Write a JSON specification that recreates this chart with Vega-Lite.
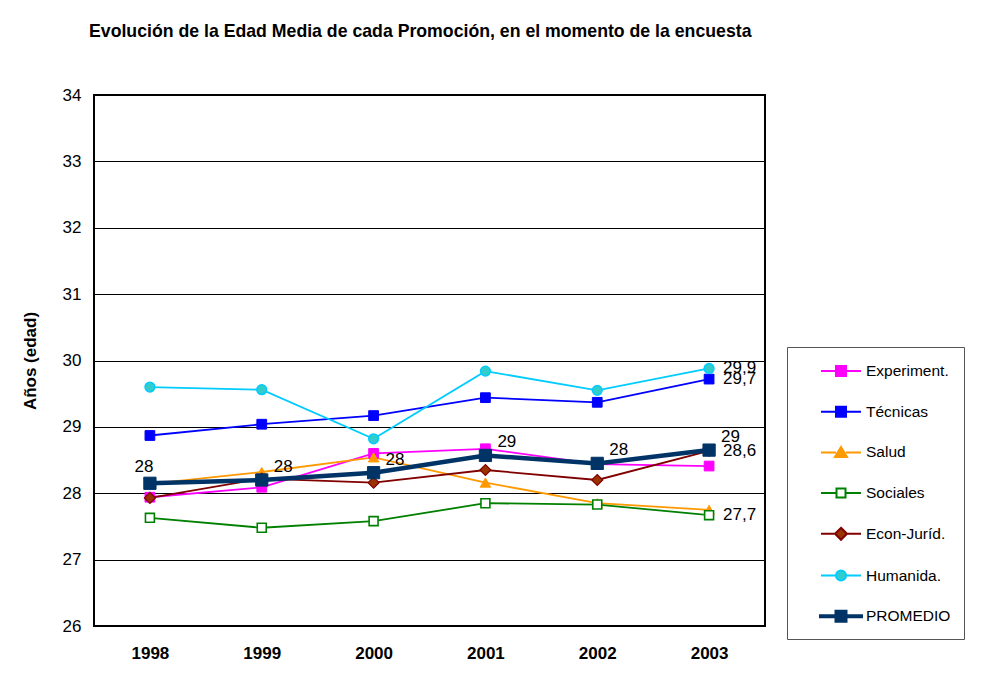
{
  "$schema": "https://vega.github.io/schema/vega-lite/v6.json",
  "width": 671,
  "height": 531,
  "padding": {"left": 21, "top": 23, "right": 5, "bottom": 5},
  "background": "#ffffff",
  "config": {
    "font": "Liberation Sans",
    "view": {"stroke": "#000000", "strokeWidth": 2},
    "axis": {"labelFont": "Liberation Sans", "titleFont": "Liberation Sans", "labelColor": "#000", "titleColor": "#000"}
  },
  "title": {
    "text": "Evolución de la Edad Media de cada Promoción, en el momento de la encuesta",
    "anchor": "start",
    "frame": "group",
    "dx": -5,
    "offset": 45,
    "fontSize": 17.7,
    "fontWeight": "bold",
    "font": "Liberation Sans",
    "color": "#000"
  },
  "data": {
    "values": [
      {"serie": "Experiment.", "year": "1998", "edad": 27.94},
      {"serie": "Experiment.", "year": "1999", "edad": 28.09},
      {"serie": "Experiment.", "year": "2000", "edad": 28.60},
      {"serie": "Experiment.", "year": "2001", "edad": 28.67},
      {"serie": "Experiment.", "year": "2002", "edad": 28.44},
      {"serie": "Experiment.", "year": "2003", "edad": 28.41},
      {"serie": "Técnicas", "year": "1998", "edad": 28.87},
      {"serie": "Técnicas", "year": "1999", "edad": 29.04},
      {"serie": "Técnicas", "year": "2000", "edad": 29.17},
      {"serie": "Técnicas", "year": "2001", "edad": 29.44},
      {"serie": "Técnicas", "year": "2002", "edad": 29.37},
      {"serie": "Técnicas", "year": "2003", "edad": 29.72, "label": "29,7"},
      {"serie": "Salud", "year": "1998", "edad": 28.14},
      {"serie": "Salud", "year": "1999", "edad": 28.32},
      {"serie": "Salud", "year": "2000", "edad": 28.54},
      {"serie": "Salud", "year": "2001", "edad": 28.16},
      {"serie": "Salud", "year": "2002", "edad": 27.85},
      {"serie": "Salud", "year": "2003", "edad": 27.75},
      {"serie": "Sociales", "year": "1998", "edad": 27.63},
      {"serie": "Sociales", "year": "1999", "edad": 27.48},
      {"serie": "Sociales", "year": "2000", "edad": 27.58},
      {"serie": "Sociales", "year": "2001", "edad": 27.85},
      {"serie": "Sociales", "year": "2002", "edad": 27.83},
      {"serie": "Sociales", "year": "2003", "edad": 27.67, "label": "27,7"},
      {"serie": "Econ-Juríd.", "year": "1998", "edad": 27.93},
      {"serie": "Econ-Juríd.", "year": "1999", "edad": 28.22},
      {"serie": "Econ-Juríd.", "year": "2000", "edad": 28.16},
      {"serie": "Econ-Juríd.", "year": "2001", "edad": 28.35},
      {"serie": "Econ-Juríd.", "year": "2002", "edad": 28.20},
      {"serie": "Econ-Juríd.", "year": "2003", "edad": 28.64, "label": "28,6"},
      {"serie": "Humanida.", "year": "1998", "edad": 29.60},
      {"serie": "Humanida.", "year": "1999", "edad": 29.56},
      {"serie": "Humanida.", "year": "2000", "edad": 28.82},
      {"serie": "Humanida.", "year": "2001", "edad": 29.84},
      {"serie": "Humanida.", "year": "2002", "edad": 29.55},
      {"serie": "Humanida.", "year": "2003", "edad": 29.88, "label": "29,9"},
      {"serie": "PROMEDIO", "year": "1998", "edad": 28.15, "label": "28"},
      {"serie": "PROMEDIO", "year": "1999", "edad": 28.20, "label": "28"},
      {"serie": "PROMEDIO", "year": "2000", "edad": 28.31, "label": "28"},
      {"serie": "PROMEDIO", "year": "2001", "edad": 28.57, "label": "29"},
      {"serie": "PROMEDIO", "year": "2002", "edad": 28.45, "label": "28"},
      {"serie": "PROMEDIO", "year": "2003", "edad": 28.65, "label": "29"}
    ]
  },
  "encoding": {
    "x": {
      "field": "year",
      "type": "ordinal",
      "scale": {"type": "point", "padding": 0.5},
      "axis": {
        "title": null,
        "labelAngle": 0,
        "labelFontSize": 17,
        "labelFontWeight": "bold",
        "labelPadding": 19,
        "ticks": false,
        "domain": false,
        "grid": false
      }
    },
    "y": {
      "field": "edad",
      "type": "quantitative",
      "scale": {"domain": [26, 34], "nice": false, "zero": false},
      "axis": {
        "title": "Años (edad)",
        "titleFontSize": 17,
        "titleFontWeight": "bold",
        "titlePadding": 23,
        "labelFontSize": 17,
        "labelPadding": 13,
        "ticks": false,
        "domain": false,
        "values": [26, 27, 28, 29, 30, 31, 32, 33, 34],
        "grid": true,
        "gridColor": "#000000",
        "gridWidth": 1,
        "gridOpacity": 1
      }
    }
  },
  "layer": [
    {
      "transform": [{"filter": "datum.serie !== 'PROMEDIO'"}],
      "mark": {"type": "line", "strokeWidth": 1.8},
      "encoding": {
        "color": {
          "field": "serie",
          "type": "nominal",
          "scale": {
            "domain": ["Econ-Juríd.", "Experiment.", "Humanida.", "PROMEDIO", "Salud", "Sociales", "Técnicas"],
            "range": ["#800000", "#FF00FF", "#00CCFF", "#003366", "#FF9900", "#008000", "#0000FF"]
          },
          "legend": null
        }
      }
    },
    {
      "transform": [{"filter": "datum.serie === 'PROMEDIO'"}],
      "mark": {"type": "line", "strokeWidth": 4.5, "color": "#003366"},
      "encoding": {}
    },
    {
      "transform": [{"filter": "datum.serie === 'Experiment.'"}],
      "mark": {"type": "point", "shape": "square", "filled": true, "opacity": 1, "size": 95, "fill": "#FF00FF", "stroke": "#FF00FF", "strokeWidth": 1},
      "encoding": {}
    },
    {
      "transform": [{"filter": "datum.serie === 'Técnicas'"}],
      "mark": {"type": "point", "shape": "square", "filled": true, "opacity": 1, "size": 95, "fill": "#0000FF", "stroke": "#0000FF", "strokeWidth": 1},
      "encoding": {}
    },
    {
      "transform": [{"filter": "datum.serie === 'Salud'"}],
      "mark": {"type": "point", "shape": "triangle-up", "filled": true, "opacity": 1, "size": 110, "fill": "#FF9900", "stroke": "#FF9900", "strokeWidth": 1},
      "encoding": {}
    },
    {
      "transform": [{"filter": "datum.serie === 'Sociales'"}],
      "mark": {"type": "point", "shape": "square", "filled": true, "opacity": 1, "size": 80, "fill": "#FFFFFF", "stroke": "#008000", "strokeWidth": 1.6},
      "encoding": {}
    },
    {
      "transform": [{"filter": "datum.serie === 'Econ-Juríd.'"}],
      "mark": {"type": "point", "shape": "diamond", "filled": true, "opacity": 1, "size": 120, "fill": "#993300", "stroke": "#800000", "strokeWidth": 1.2},
      "encoding": {}
    },
    {
      "transform": [{"filter": "datum.serie === 'Humanida.'"}],
      "mark": {"type": "point", "shape": "circle", "filled": true, "opacity": 1, "size": 95, "fill": "#33CCCC", "stroke": "#00CCFF", "strokeWidth": 1.5},
      "encoding": {}
    },
    {
      "transform": [{"filter": "datum.serie === 'PROMEDIO'"}],
      "mark": {"type": "point", "shape": "square", "filled": true, "opacity": 1, "size": 150, "fill": "#003366", "stroke": "#003366", "strokeWidth": 1},
      "encoding": {}
    },
    {
      "transform": [{"filter": "false"}],
      "mark": {"type": "point", "filled": true, "opacity": 1, "strokeWidth": 2},
      "encoding": {
        "shape": {
          "field": "serie",
          "type": "nominal",
          "scale": {
            "domain": ["Experiment.", "Técnicas", "Salud", "Sociales", "Econ-Juríd.", "Humanida.", "PROMEDIO"],
            "range": [
              "M-2,0H-0.5M0.5,0H2M-0.5,-0.5H0.5V0.5H-0.5Z",
              "M-2,0H-0.5M0.5,0H2M-0.5,-0.5H0.5V0.5H-0.5Z",
              "M-2,0H-0.5M0.5,0H2M0,-0.55L0.6,0.45H-0.6Z",
              "M-2,0H-0.45M0.45,0H2M-0.45,-0.45H0.45V0.45H-0.45Z",
              "M-2,0H-0.6M0.6,0H2M0,-0.6L0.6,0L0,0.6L-0.6,0Z",
              "M-2,0H-0.5M0.5,0H2M-0.5,0A0.5,0.5,0,1,0,0.5,0A0.5,0.5,0,1,0,-0.5,0Z",
              "M-2.1,-0.1H2.1V0.1H-2.1ZM-0.55,-0.55H0.55V0.55H-0.55Z"
            ]
          },
          "legend": {
            "title": null,
            "orient": "none",
            "legendX": 693,
            "legendY": 252,
            "padding": 13,
            "strokeColor": "#555555",
            "fillColor": "#ffffff",
            "labelFont": "Liberation Sans",
            "labelFontSize": 15.5,
            "labelColor": "#000000",
            "symbolSize": 400,
            "symbolOffset": 30,
            "labelOffset": 14,
            "rowPadding": 20.7,
            "symbolStrokeWidth": 2,
            "symbolOpacity": 1
          }
        },
        "fill": {
          "field": "serie",
          "type": "nominal",
          "scale": {
            "domain": ["Experiment.", "Técnicas", "Salud", "Sociales", "Econ-Juríd.", "Humanida.", "PROMEDIO"],
            "range": ["#FF00FF", "#0000FF", "#FF9900", "#FFFFFF", "#993300", "#33CCCC", "#003366"]
          }
        },
        "stroke": {
          "field": "serie",
          "type": "nominal",
          "scale": {
            "domain": ["Experiment.", "Técnicas", "Salud", "Sociales", "Econ-Juríd.", "Humanida.", "PROMEDIO"],
            "range": ["#FF00FF", "#0000FF", "#FF9900", "#008000", "#800000", "#00CCFF", "#003366"]
          }
        }
      }
    },
    {
      "transform": [{"filter": "isValid(datum.label) && datum.serie !== 'PROMEDIO'"}],
      "mark": {"type": "text", "align": "left", "baseline": "middle", "dx": 14, "dy": 0, "fontSize": 17, "font": "Liberation Sans", "color": "#000"},
      "encoding": {"text": {"field": "label"}}
    },
    {
      "transform": [{"filter": "datum.serie === 'PROMEDIO' && datum.year !== '1998'"}],
      "mark": {"type": "text", "align": "left", "baseline": "middle", "dx": 12, "dy": -13, "fontSize": 17, "font": "Liberation Sans", "color": "#000"},
      "encoding": {"text": {"field": "label"}}
    },
    {
      "transform": [{"filter": "datum.serie === 'PROMEDIO' && datum.year === '1998'"}],
      "mark": {"type": "text", "align": "center", "baseline": "middle", "dx": -6, "dy": -16, "fontSize": 17, "font": "Liberation Sans", "color": "#000"},
      "encoding": {"text": {"field": "label"}}
    }
  ]
}
